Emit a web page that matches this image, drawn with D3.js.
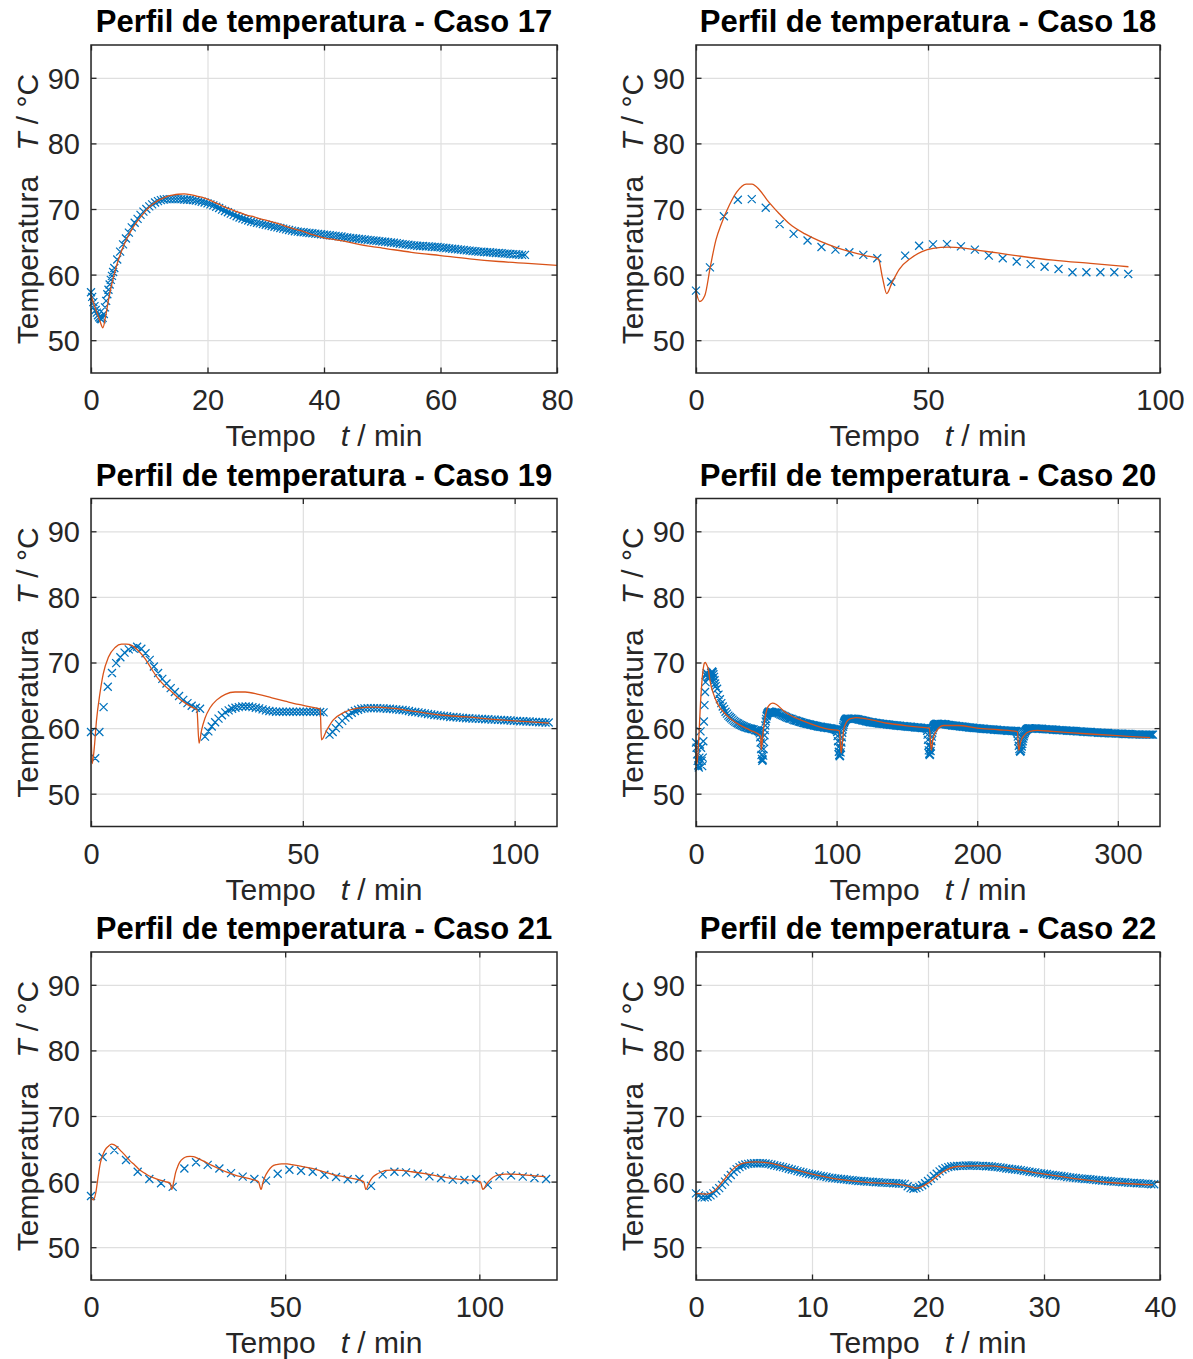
<!DOCTYPE html>
<html><head><meta charset="utf-8">
<script src="https://cdn.jsdelivr.net/npm/d3@7"></script>
<style>
body{margin:0;background:#fff;}
svg{display:block;font-family:"Liberation Sans",Arial,Helvetica,sans-serif;}
</style></head><body>
<svg id="chart" width="1193" height="1359"></svg>
<script>
// ---------------- DATA ----------------
const titles = ["Perfil de temperatura - Caso 17","Perfil de temperatura - Caso 18","Perfil de temperatura - Caso 19",
                "Perfil de temperatura - Caso 20","Perfil de temperatura - Caso 21","Perfil de temperatura - Caso 22"];
const xMax = [80, 100, 110, 330, 120, 40];
const xTicks = [[0,20,40,60,80],[0,50,100],[0,50,100],[0,100,200,300],[0,50,100],[0,10,20,30,40]];
const yTicks = [50,60,70,80,90];
const yDomain = [45,95];

// Case 17 measured (two recording segments)
const c17_dataStart = [0, 4.5];
const c17_dataStep = [0.2, 0.5];
const c17_dataT = [
 [57.3,56.6,55.8,55.2,54.6,54.2,53.8,53.5,53.3,53.2,53.4,54.0,55.0,56.0,57.0,57.7,58.5,59.2,59.8,60.4,61.0],
 [62.3,
63.5,64.6,65.5,66.4,67.2,67.9,68.5,69.1,69.6,70.0,
70.4,70.7,71.0,71.2,71.35,71.45,71.5,71.5,71.5,71.5,
71.5,71.5,71.45,71.4,71.4,71.35,71.3,71.2,71.1,71.0,
70.85,70.7,70.55,70.35,70.15,69.9,69.7,69.5,69.3,69.1,
68.9,68.7,68.55,68.4,68.25,68.1,68.0,67.9,67.8,67.7,
67.6,67.5,67.4,67.3,67.2,67.1,67.0,66.9,66.8,66.7,
66.6,66.55,66.5,66.45,66.4,66.35,66.3,66.25,66.2,66.15,
66.1,66.05,66.0,65.95,65.9,65.85,65.8,65.7,65.65,65.6,
65.55,65.5,65.45,65.4,65.35,65.3,65.25,65.2,65.15,65.1,
65.05,65.0,64.95,64.9,64.85,64.8,64.7,64.65,64.6,64.55,
64.5,64.45,64.4,64.35,64.35,64.3,64.3,64.25,64.2,64.2,
64.15,64.1,64.05,64.0,63.95,63.9,63.85,63.8,63.75,63.7,
63.65,63.6,63.55,63.5,63.5,63.45,63.4,63.4,63.35,63.3,
63.3,63.25,63.2,63.2,63.15,63.1,63.1,63.05,63.0,63.0]
];
const c17_modelTime = [0,0.5,1,1.5,2.05,2.5,3,3.5,4,4.5,5,5.5,6,7,8,9,10,11,12,13,14,15,16,17,18,19,20,21,22,23,24,25,26,27,28,29,30,32,34,36,38,40,42,44,46,48,50,55,60,65,70,75,80];
const c17_modelT = [56.9,55.5,54.2,53.0,51.9,53.6,56.1,58.3,60.1,61.7,63.0,64.2,65.2,66.9,68.2,69.3,70.3,71.0,71.5,71.9,72.1,72.25,72.3,72.2,72.0,71.8,71.5,71.1,70.7,70.3,69.95,69.6,69.3,69.0,68.8,68.5,68.3,67.8,67.2,66.7,66.1,65.6,65.3,65.0,64.6,64.3,64.05,63.4,62.9,62.4,62.0,61.7,61.4];

// Case 18 measured (every 3 min)
const c18_dataStart = [0], c18_dataStep = [3.005];
const c18_dataT = [[57.55,61.1,68.9,71.4,71.5,70.2,67.7,66.2,65.2,64.2,63.8,63.4,63.0,62.5,58.9,62.9,64.4,64.6,64.65,64.3,63.8,62.9,62.5,62.0,61.6,61.2,60.85,60.35,60.35,60.35,60.35,60.1]];
const c18_modelTime = [0,0.8,1.9,3.1,4.3,5.5,7.2,8.8,10.8,12.05,13.7,15.3,17.8,20.2,23.5,26.7,30,33.2,36.5,39.3,40.2,41.1,42.2,43.8,46.3,48.7,51.1,54.4,57.7,60.9,65,70,77,85,93.2];
const c18_modelT = [57.45,55.9,56.8,61.25,65.3,67.8,70.6,72.6,73.8,73.8,72.9,71.4,69.4,67.7,66.2,65.1,64.2,63.5,62.9,62.4,59.5,57.1,58.7,60.8,62.5,63.5,64.0,64.2,64.05,63.7,63.3,62.8,62.2,61.7,61.2];

// Case 19 measured (three recording segments)
const c19_dataStart = [0, 26.9, 56.3];
const c19_dataStep = [0.99, 0.8, 0.75];
const c19_dataT = [
 [59.4,55.4,59.4,63.2,66.3,68.4,69.9,70.8,71.5,72.0,72.2,72.4,72.1,71.4,70.4,69.4,68.4,67.5,66.8,66.1,65.5,64.9,64.3,63.8,63.4,63.1,62.95],
 [58.7,59.5,60.25,60.9,61.45,61.95,62.4,62.7,62.95,63.1,63.2,63.3,63.3,63.3,63.2,63.1,63.0,62.85,62.7,62.6,62.55,62.5,62.5,62.5,62.5,62.5,62.5,62.5,62.5,62.5,62.5,62.5,62.5,62.5,62.45,62.4],
 [59.0,59.4,60.0,60.6,61.1,61.6,62.0,62.35,62.6,62.8,62.95,63.0,63.05,63.05,63.05,63.05,63.0,63.0,62.95,62.95,62.9,62.85,62.8,62.75,62.7,62.6,62.5,62.45,62.4,62.3,62.25,62.15,62.1,62.0,61.95,61.9,61.85,61.8,61.7,61.7,61.65,61.6,61.55,61.5,61.5,61.45,61.45,61.4,61.4,61.35,61.35,61.3,61.3,61.25,61.25,61.2,61.2,61.15,61.1,61.1,61.05,61.05,61.0,61.0,60.95,60.95,60.9,60.9,60.85,60.85]
];
const c19_modelTime = [0,0.3,0.8,1.3,2.1,2.9,4.1,5.7,7.2,8.4,9.6,11.2,12.8,14.3,15.9,17.5,19.1,20.6,22.2,23.8,25.0,25.5,26.1,26.9,28.1,29.7,31.7,34.0,36.4,39.5,42.7,45.8,49.0,52.1,54.1,54.4,55.7,57.2,59.6,62.7,66.7,71.4,76.9,82.4,88.7,96.6,102.9,108.1];
const c19_modelT = [59.7,54.6,57.2,61.2,65.25,68.3,70.8,72.3,72.8,72.8,72.6,71.8,70.55,69.0,67.5,66.4,65.5,64.6,63.85,63.2,62.8,57.7,59.7,61.5,63.1,64.3,65.15,65.5,65.5,65.15,64.6,64.1,63.6,63.2,62.9,58.2,59.75,61.25,62.35,63.0,63.2,63.0,62.5,62.0,61.7,61.25,61.0,60.75];

// Case 20 measured (ten recording segments, denser around the dips)
const c20_dataStart = [0, 15, 44.5, 53, 99.5, 109, 163.5, 173, 227.5, 239];
const c20_dataStep = [0.4, 1, 0.3, 1, 0.3, 1, 0.3, 1, 0.35, 1];
const c20_dataT = [
 [57.8,57.0,56.0,55.0,54.3,54.0,55.5,57.5,59.5,57.0,55.0,54.2,55.5,58.0,61.0,63.5,65.5,67.0,68.0,68.4,68.2,67.8,67.6,67.5,67.6,67.8,68.1,68.4,68.6,68.6,68.5,68.2,67.8,67.3,66.8,66.4],
 [66.0,65.1,64.4,63.8,63.3,62.9,62.5,62.2,61.9,61.7,61.5,61.3,61.1,60.95,60.8,60.7,60.55,60.45,60.35,60.25,60.15,60.1,60.0,59.95,59.9,59.85,59.8,59.7,59.65,59.6],
 [59.55,59.5,59.45,59.2,58.6,57.8,56.8,55.9,55.3,55.0,55.2,55.8,56.8,57.9,58.9,59.7,60.4,61.0,61.4,61.8,62.0,62.2,62.3,62.4,62.45,62.5,62.5],
 [62.5,62.45,62.4,62.4,62.35,62.3,62.2,62.1,62.0,61.9,61.8,61.7,61.6,61.5,61.45,61.4,61.3,61.2,61.15,61.1,61.0,60.95,60.9,60.8,60.75,60.7,60.65,60.6,60.55,60.5,60.45,60.4,60.35,60.3,60.25,60.2,60.2,60.15,60.1,60.1,60.05,60.0,60.0,59.95,59.9,59.85,59.8],
 [59.75,59.7,59.65,59.4,58.8,58.0,57.1,56.4,55.9,55.7,55.8,56.3,57.0,57.8,58.6,59.3,59.8,60.2,60.5,60.75,60.95,61.1,61.2,61.3,61.35,61.4,61.4,61.45,61.45,61.45],
 [61.4,61.45,61.45,61.45,61.4,61.4,61.35,61.3,61.25,61.2,61.15,61.1,61.05,61.0,60.95,60.9,60.9,60.85,60.8,60.8,60.75,60.7,60.7,60.65,60.65,60.6,60.6,60.55,60.55,60.5,60.5,60.45,60.45,60.4,60.4,60.35,60.35,60.3,60.3,60.3,60.25,60.25,60.2,60.2,60.2,60.15,60.15,60.1,60.1,60.1,60.05,60.05,60.0,60.0,60.0],
 [60.0,59.95,59.9,59.6,59.0,58.2,57.3,56.6,56.1,55.9,56.0,56.5,57.2,58.0,58.7,59.3,59.7,60.0,60.2,60.35,60.45,60.5,60.55,60.6,60.6,60.65,60.65,60.65,60.65,60.65],
 [60.6,60.65,60.65,60.6,60.6,60.55,60.5,60.5,60.45,60.4,60.4,60.35,60.35,60.3,60.3,60.25,60.25,60.2,60.2,60.15,60.15,60.1,60.1,60.05,60.05,60.0,60.0,60.0,59.95,59.95,59.9,59.9,59.9,59.85,59.85,59.85,59.8,59.8,59.8,59.75,59.75,59.75,59.7,59.7,59.7,59.65,59.65,59.65,59.6,59.6,59.6,59.6,59.55,59.55,59.55],
 [59.55,59.5,59.45,59.2,58.7,58.0,57.3,56.8,56.5,56.4,56.5,56.8,57.2,57.6,58.0,58.4,58.75,59.05,59.3,59.5,59.6,59.7,59.8,59.85,59.9,59.9,59.95,59.95,59.95,59.95,59.95],
 [59.95,59.95,59.95,59.95,59.9,59.9,59.9,59.9,59.85,59.85,59.85,59.8,59.8,59.8,59.8,59.75,59.75,59.75,59.7,59.7,59.7,59.7,59.65,59.65,59.65,59.6,59.6,59.6,59.6,59.55,59.55,59.55,59.5,59.5,59.5,59.5,59.45,59.45,59.45,59.4,59.4,59.4,59.4,59.35,59.35,59.35,59.35,59.3,59.3,59.3,59.3,59.25,59.25,59.25,59.25,59.2,59.2,59.2,59.2,59.2,59.15,59.15,59.15,59.15,59.15,59.1,59.1,59.1,59.1,59.1,59.1,59.05,59.05,59.05,59.05,59.05,59.05,59.0,59.0,59.0,59.0,59.0,59.0,59.0,59.0,59.0,59.0]
];
const c20_modelTime = [0,0.7,2,3,4,5,6,6.6,7.5,8.7,9.9,11,12.3,14.7,17,19.4,24.1,31.2,38.3,45.9,46.4,47.2,48.2,49.5,50.6,52.5,54.4,57.2,62,66.7,76.1,85.6,95,102,103.2,104.2,105,106.5,108,111,114,121,137.6,150,161,166,167.3,168.5,170.6,173,176,186.6,200,215,228.6,229.5,231,233.4,237.4,242.8,253.5,280,307,323];
const c20_modelT = [57.5,54.5,58.5,63.0,66.5,68.8,69.9,70.0,69.7,69.0,67.3,66.2,65.3,64.0,63.1,62.5,61.5,60.45,59.7,58.8,56.7,58.2,60.2,62.0,63.0,63.6,63.8,63.6,62.7,62.0,61.1,60.35,59.8,59.6,56.2,58.0,59.7,60.7,61.2,61.5,61.6,61.4,60.7,60.35,60.1,60.0,56.6,58.3,59.4,60.1,60.4,60.4,60.0,59.75,59.45,56.6,58.0,58.9,59.5,59.65,59.5,59.1,58.75,58.55];

// Case 21 measured (every 3 min)
const c21_dataStart = [0], c21_dataStep = [3.005];
const c21_dataT = [[57.8,63.75,64.8,63.3,61.5,60.4,59.75,59.2,62.0,62.95,62.55,62.0,61.3,60.75,60.4,60.15,61.2,61.8,61.65,61.5,61.05,60.7,60.35,60.4,59.35,61.1,61.5,61.4,61.2,60.8,60.55,60.3,60.25,60.35,59.5,60.8,60.95,60.75,60.55,60.4]];
const c21_modelTime = [0,0.6,1.2,1.8,2.4,3.0,3.6,4.5,5.3,6.0,6.6,7.5,8.8,10,11.3,12.5,13.9,15,16.5,18,19.1,20.4,20.8,21.3,21.8,22.4,22.9,23.8,24.7,25.5,26.4,27.8,29.4,31,32.8,35,37.1,39,41.4,43.1,43.8,44.3,44.8,45.6,46.6,47.8,49.1,50.5,51.7,54,56.9,60,62.9,65,67.2,70.2,70.8,71.5,72.3,73.5,74.9,76,77.5,80,82.6,86,91.2,95,99.8,100.3,100.9,102,103,104.1,105.3,106.7,108.5,110.1,113.6,117];
const c21_modelT = [57.6,57.2,58.2,60.6,62.8,64.0,64.8,65.4,65.7,65.6,65.35,64.8,64.0,63.2,62.5,61.8,61.25,60.85,60.5,60.2,60.0,59.75,58.8,60.0,61.4,62.4,63.0,63.55,63.8,63.85,63.8,63.45,63.0,62.5,62.0,61.45,61.0,60.7,60.35,60.0,58.8,59.9,60.75,61.6,62.3,62.6,62.7,62.7,62.6,62.35,62.0,61.5,61.0,60.75,60.5,60.0,58.8,59.7,60.5,61.1,61.5,61.7,61.75,61.7,61.5,61.2,60.65,60.35,60.05,59.95,58.8,59.75,60.4,60.85,61.05,61.15,61.15,61.1,60.9,60.75];

// Case 22 measured (every 0.25 min)
const c22_dataStart = [0], c22_dataStep = [0.25];
const c22_dataT = [[58.2,57.9,57.6,57.6,57.7,57.9,58.2,58.6,59.0,59.5,
60.0,60.5,61.0,61.5,61.9,62.2,62.45,62.6,62.7,62.75,
62.8,62.8,62.8,62.8,62.75,62.7,62.6,62.5,62.4,62.3,
62.2,62.1,61.95,61.85,61.75,61.6,61.5,61.4,61.3,61.2,
61.1,61.05,60.95,60.85,60.8,60.7,60.6,60.55,60.5,60.45,
60.4,60.35,60.3,60.25,60.2,60.15,60.1,60.1,60.05,60.0,
60.0,59.95,59.9,59.9,59.85,59.85,59.8,59.8,59.75,59.75,
59.7,59.7,59.65,59.3,59.0,58.9,59.0,59.2,59.45,59.75,
60.1,60.45,60.85,61.2,61.55,61.85,62.05,62.2,62.3,62.35,
62.4,62.4,62.4,62.45,62.45,62.45,62.45,62.4,62.4,62.4,
62.35,62.35,62.3,62.25,62.2,62.15,62.1,62.0,61.95,61.9,
61.85,61.8,61.75,61.65,61.6,61.5,61.45,61.4,61.3,61.25,
61.2,61.15,61.05,61.0,60.95,60.9,60.85,60.8,60.7,60.65,
60.6,60.55,60.5,60.45,60.4,60.4,60.35,60.3,60.25,60.2,
60.15,60.15,60.1,60.05,60.0,60.0,59.95,59.9,59.9,59.85,
59.8,59.8,59.75,59.75,59.7,59.7,59.65,59.6,59.6]];
const c22_modelTime = [0,0.9,1.5,2.4,3.2,4.1,5.2,6.4,8.1,10.4,12.7,15,17.3,18.45,19.0,20.2,21.3,22.5,23.9,25.3,26.8,29.65,32.5,35.4,39.4];
const c22_modelT = [58.2,58.1,58.5,60.25,61.9,62.8,63.0,62.8,62.0,61.0,60.25,59.85,59.6,59.25,59.0,60.0,61.5,62.3,62.4,62.4,62.1,61.25,60.5,59.9,59.5];

// ---------------- BUILD ----------------
function segments(starts, steps, segs){
  const out = [];
  segs.forEach((vals, k) => vals.forEach((v, i) => out.push([starts[k] + i * steps[k], v])));
  return out;
}
function paired(ts, vs){ return ts.map((t,i)=>[t, vs[i]]); }

const measured = [
  segments(c17_dataStart, c17_dataStep, c17_dataT),
  segments(c18_dataStart, c18_dataStep, c18_dataT),
  segments(c19_dataStart, c19_dataStep, c19_dataT),
  segments(c20_dataStart, c20_dataStep, c20_dataT),
  segments(c21_dataStart, c21_dataStep, c21_dataT),
  segments(c22_dataStart, c22_dataStep, c22_dataT)
];
const model = [
  paired(c17_modelTime, c17_modelT), paired(c18_modelTime, c18_modelT), paired(c19_modelTime, c19_modelT),
  paired(c20_modelTime, c20_modelT), paired(c21_modelTime, c21_modelT), paired(c22_modelTime, c22_modelT)
];

const cols = [{x0:91, x1:557},{x0:696, x1:1160}];
const rows = [{y0:45, y1:373},{y0:498.5, y1:826.5},{y0:952, y1:1280}];

const BLUE = "#0072BD", ORANGE = "#D95319", AX = "#262626", GRID = "#dfdfdf";
const TICKFS = 29, LABFS = 30, TITLEFS = 31;
const svg = d3.select("#chart");

for (let p = 0; p < 6; p++) {
  const c = cols[p % 2], r = rows[Math.floor(p / 2)];
  const x = d3.scaleLinear().domain([0, xMax[p]]).range([c.x0, c.x1]);
  const y = d3.scaleLinear().domain(yDomain).range([r.y1, r.y0]);
  const g = svg.append("g");
  const w = c.x1 - c.x0, h = r.y1 - r.y0;

  // grid
  g.append("g").attr("transform", `translate(0,${r.y1})`)
    .call(d3.axisBottom(x).tickValues(xTicks[p]).tickSize(-h).tickSizeOuter(0).tickFormat(""))
    .call(s => { s.select(".domain").remove(); s.selectAll("line").attr("stroke", GRID).attr("stroke-width", 1.2); });
  g.append("g").attr("transform", `translate(${c.x0},0)`)
    .call(d3.axisLeft(y).tickValues(yTicks).tickSize(-w).tickSizeOuter(0).tickFormat(""))
    .call(s => { s.select(".domain").remove(); s.selectAll("line").attr("stroke", GRID).attr("stroke-width", 1.2); });

  // measured markers (x)
  const ms = 4;
  let dpath = "";
  measured[p].forEach(([t, v]) => {
    const px = x(t), py = y(v);
    dpath += `M${px-ms},${py-ms}L${px+ms},${py+ms}M${px-ms},${py+ms}L${px+ms},${py-ms}`;
  });
  g.append("path").attr("d", dpath).attr("fill", "none").attr("stroke", BLUE).attr("stroke-width", 1.25);

  // model line
  g.append("path").datum(model[p])
    .attr("d", d3.line().x(d => x(d[0])).y(d => y(d[1])).curve(d3.curveMonotoneX))
    .attr("fill", "none").attr("stroke", ORANGE).attr("stroke-width", 1.3);

  // axes with inward ticks
  const tl = 5.5;
  const styleAx = s => { s.select(".domain").remove(); s.selectAll("line").attr("stroke", AX).attr("stroke-width", 1.3); };
  g.append("g").attr("transform", `translate(0,${r.y1})`)
    .call(d3.axisBottom(x).tickValues(xTicks[p]).tickSize(-tl).tickSizeOuter(0).tickFormat(d3.format("d")))
    .call(styleAx)
    .call(s => s.selectAll("text").attr("y", 37).attr("dy", null).attr("fill", AX)
      .attr("font-size", TICKFS).attr("font-family", null));
  g.append("g").attr("transform", `translate(0,${r.y0})`)
    .call(d3.axisTop(x).tickValues(xTicks[p]).tickSize(-tl).tickSizeOuter(0).tickFormat(""))
    .call(styleAx);
  g.append("g").attr("transform", `translate(${c.x0},0)`)
    .call(d3.axisLeft(y).tickValues(yTicks).tickSize(-tl).tickSizeOuter(0).tickFormat(d3.format("d")))
    .call(styleAx)
    .call(s => s.selectAll("text").attr("x", -11).attr("dy", "0.36em").attr("fill", AX)
      .attr("font-size", TICKFS).attr("font-family", null));
  g.append("g").attr("transform", `translate(${c.x1},0)`)
    .call(d3.axisRight(y).tickValues(yTicks).tickSize(-tl).tickSizeOuter(0).tickFormat(""))
    .call(styleAx);

  // frame
  g.append("rect").attr("x", c.x0).attr("y", r.y0).attr("width", w).attr("height", h)
    .attr("fill", "none").attr("stroke", AX).attr("stroke-width", 1.5);

  // title
  g.append("text").attr("x", (c.x0 + c.x1) / 2).attr("y", r.y0 - 13)
    .attr("text-anchor", "middle").attr("font-weight", "bold").attr("font-size", TITLEFS).attr("fill", "#000")
    .text(titles[p]);

  // x label
  const xl = g.append("text").attr("x", (c.x0 + c.x1) / 2).attr("y", r.y1 + 73)
    .attr("text-anchor", "middle").attr("font-size", LABFS).attr("fill", AX);
  xl.append("tspan").text("Tempo\u00a0\u00a0\u00a0");
  xl.append("tspan").attr("font-style", "italic").text("t");
  xl.append("tspan").text("\u00a0/\u00a0min");

  // y label
  const yl = g.append("text")
    .attr("transform", `translate(${c.x0 - 53},${(r.y0 + r.y1) / 2}) rotate(-90)`)
    .attr("text-anchor", "middle").attr("font-size", LABFS).attr("fill", AX);
  yl.append("tspan").text("Temperatura\u00a0\u00a0\u00a0");
  yl.append("tspan").attr("font-style", "italic").text("T");
  yl.append("tspan").text("\u00a0/\u00a0\u00b0C");
}
</script>
</body></html>
